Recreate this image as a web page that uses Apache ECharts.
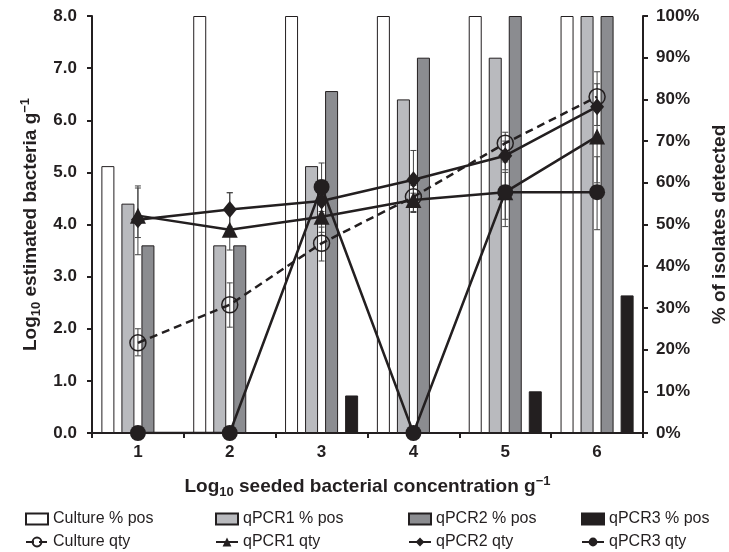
<!DOCTYPE html>
<html>
<head>
<meta charset="utf-8">
<script src="https://cdn.jsdelivr.net/npm/echarts@6/dist/echarts.min.js"></script>
<style>html,body{margin:0;padding:0;background:#fff;}#c{width:729px;height:552px;}</style>
</head>
<body>
<div id="c"></div>
<script>
const categories = ['1', '2', '3', '4', '5', '6'];
const culturePct = [64, 100, 100, 100, 100, 100];
const qpcr1Pct = [55, 45, 64, 80, 90, 100];
const qpcr2Pct = [45, 45, 82, 90, 100, 100];
const qpcr3Pct = [0, 0, 9, 0, 10, 33];
const cultureQty = [1.73, 2.46, 3.64, 4.53, 5.56, 6.45];
const qpcr1Qty = [4.17, 3.9, 4.15, 4.47, 4.62, 5.69];
const qpcr2Qty = [4.09, 4.29, 4.45, 4.86, 5.32, 6.26];
const qpcr3Qty = [0, 0, 4.72, 0, 4.62, 4.62];
const cultureErrLo = [1.48, 2.03, 3.30, 4.25, 5.35, 6.20];
const cultureErrHi = [2.0, 2.88, 3.95, 4.80, 5.77, 6.93];
const qpcr1ErrLo = [3.42, 3.51, 3.85, 4.23, 3.96, 4.80];
const qpcr1ErrHi = [4.74, 4.61, 4.60, 4.75, 5.0, 6.20];
const qpcr2ErrLo = [3.75, 3.95, 4.2, 4.6, 5.05, 5.90];
const qpcr2ErrHi = [4.70, 4.61, 4.8, 5.42, 5.6, 6.70];
const qpcr3ErrLo = [null, null, 4.25, null, 4.1, 3.90];
const qpcr3ErrHi = [null, null, 5.18, null, 5.2, 5.30];
const leftTicks = [0, 8, 1];
const rightTicks = [0, 100, 10];

const INK = '#231f20';
const FONT = 'Liberation Sans';

function errSeries(lo, hi) {
  const data = [];
  lo.forEach((v, i) => { if (v != null && hi[i] != null) data.push([i, v, hi[i]]); });
  return {
    type: 'custom', xAxisIndex: 0, yAxisIndex: 0, z: 3, silent: true,
    data: data,
    renderItem: function (params, api) {
      const p1 = api.coord([api.value(0), api.value(1)]);
      const p2 = api.coord([api.value(0), api.value(2)]);
      const w = 3;
      const st = { stroke: '#444', lineWidth: 1 };
      return {
        type: 'group', children: [
          { type: 'line', shape: { x1: p1[0], y1: p1[1], x2: p2[0], y2: p2[1] }, style: st },
          { type: 'line', shape: { x1: p1[0] - w, y1: p1[1], x2: p1[0] + w, y2: p1[1] }, style: st },
          { type: 'line', shape: { x1: p2[0] - w, y1: p2[1], x2: p2[0] + w, y2: p2[1] }, style: st }
        ]
      };
    }
  };
}

const chart = echarts.init(document.getElementById('c'), null, { renderer: 'canvas' });
const barBorder = { borderColor: INK, borderWidth: 1 };
const lineCommon = { type: 'line', yAxisIndex: 0, z: 5, symbolSize: 14, lineStyle: { color: INK, width: 2.5 } };

const legendPos = [
  ['Culture % pos', 20, 506, 'rect'], ['qPCR1 % pos', 210, 506, 'rect'], ['qPCR2 % pos', 403, 506, 'rect'], ['qPCR3 % pos', 576, 506, 'rect'],
  ['Culture qty', 20, 529, null], ['qPCR1 qty', 210, 529, null], ['qPCR2 qty', 403, 529, null], ['qPCR3 qty', 576, 529, null]
];

const nameRich = {
  b: { fontSize: 19, fontWeight: 'bold', color: INK, lineHeight: 24 },
  s: { fontSize: 13, fontWeight: 'bold', color: INK, verticalAlign: 'bottom', lineHeight: 14 },
  p: { fontSize: 13, fontWeight: 'bold', color: INK, verticalAlign: 'top', lineHeight: 14 }
};

chart.setOption({
  backgroundColor: '#fff',
  animation: false,
  textStyle: { fontFamily: FONT },
  grid: { left: 92, right: 86, top: 16, bottom: 119, containLabel: false, outerBoundsMode: 'none' },
  legend: legendPos.map(l => {
    const o = {
      data: [l[0]], left: l[1], top: l[2], itemWidth: 22, itemHeight: 11, itemGap: 0,
      textStyle: { fontSize: 16, color: INK, fontFamily: FONT }
    };
    if (l[3]) o.icon = l[3];
    return o;
  }),
  xAxis: {
    type: 'category', data: categories,
    axisLine: { lineStyle: { color: INK, width: 2 } },
    axisTick: { show: true, alignWithLabel: false, length: 5, lineStyle: { color: INK, width: 2 } },
    axisLabel: { fontSize: 17, fontWeight: 'bold', color: INK, margin: 11 },
    name: '{b|Log}{s|10}{b| seeded bacterial concentration g}{p|−1}',
    nameLocation: 'middle', nameGap: 42,
    nameTextStyle: { rich: nameRich }
  },
  yAxis: [
    {
      type: 'value', min: leftTicks[0], max: leftTicks[1], interval: leftTicks[2],
      splitLine: { show: false },
      axisLine: { show: true, lineStyle: { color: INK, width: 2 } },
      axisTick: { show: true, length: 5, lineStyle: { color: INK, width: 2 } },
      axisLabel: { fontSize: 17, fontWeight: 'bold', color: INK, margin: 15, formatter: v => v.toFixed(1) },
      name: '{b|Log}{s|10}{b| estimated bacteria g}{p|−1}',
      nameLocation: 'middle', nameGap: 49, nameRotate: 90,
      nameTextStyle: { rich: nameRich }
    },
    {
      type: 'value', min: rightTicks[0], max: rightTicks[1], interval: rightTicks[2], position: 'right',
      splitLine: { show: false },
      axisLine: { show: true, lineStyle: { color: INK, width: 2 } },
      axisTick: { show: true, length: 5, lineStyle: { color: INK, width: 2 } },
      axisLabel: { fontSize: 17, fontWeight: 'bold', color: INK, margin: 13, formatter: '{value}%' },
      name: '% of isolates detected', nameLocation: 'middle', nameGap: 65, nameRotate: 90,
      nameTextStyle: { fontSize: 19, fontWeight: 'bold', color: INK }
    }
  ],
  series: [
    { name: 'Culture % pos', type: 'bar', yAxisIndex: 1, data: culturePct, barWidth: 13, barGap: '54%', itemStyle: Object.assign({ color: '#ffffff' }, barBorder) },
    { name: 'qPCR1 % pos', type: 'bar', yAxisIndex: 1, data: qpcr1Pct, barWidth: 13, barGap: '54%', itemStyle: Object.assign({ color: '#b9babe' }, barBorder) },
    { name: 'qPCR2 % pos', type: 'bar', yAxisIndex: 1, data: qpcr2Pct, barWidth: 13, barGap: '54%', itemStyle: Object.assign({ color: '#8b8c90' }, barBorder) },
    { name: 'qPCR3 % pos', type: 'bar', yAxisIndex: 1, data: qpcr3Pct, barWidth: 13, barGap: '54%', itemStyle: Object.assign({ color: INK }, barBorder) },
    errSeries(cultureErrLo, cultureErrHi),
    errSeries(qpcr1ErrLo, qpcr1ErrHi),
    errSeries(qpcr2ErrLo, qpcr2ErrHi),
    errSeries(qpcr3ErrLo, qpcr3ErrHi),
    Object.assign({}, lineCommon, {
      name: 'Culture qty', data: cultureQty, symbol: 'circle', symbolSize: 16,
      lineStyle: { color: INK, width: 2.5, type: [8, 5] },
      itemStyle: { color: 'rgba(255,255,255,0)', borderColor: INK, borderWidth: 1.5 }
    }),
    Object.assign({}, lineCommon, {
      name: 'qPCR1 qty', data: qpcr1Qty, symbol: 'triangle', symbolSize: 16,
      itemStyle: { color: INK }
    }),
    Object.assign({}, lineCommon, {
      name: 'qPCR2 qty', data: qpcr2Qty, symbol: 'diamond', symbolSize: [14, 17],
      itemStyle: { color: INK }
    }),
    Object.assign({}, lineCommon, {
      name: 'qPCR3 qty', data: qpcr3Qty, symbol: 'circle', symbolSize: 16,
      itemStyle: { color: INK }
    })
  ]
});
</script>
</body>
</html>
